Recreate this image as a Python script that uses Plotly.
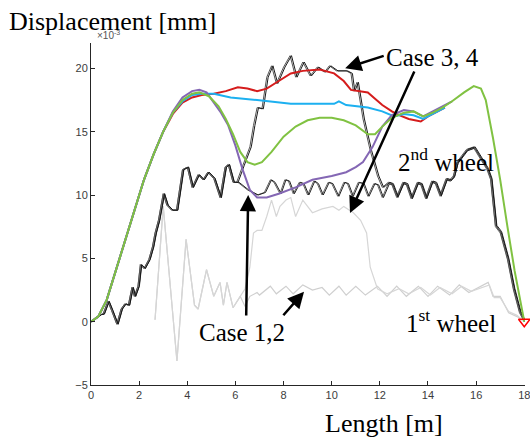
import plotly.graph_objects as go

# ---- colored curves ----
green_x = [0, 0.3, 0.65, 1.0, 1.4, 1.8, 2.2, 2.6, 3.0, 3.4, 3.8, 4.2, 4.5, 4.9, 5.3, 5.6, 5.9, 6.2, 6.5, 6.8, 7.1, 7.5, 8.0, 8.5, 9.0, 9.5, 10.0, 10.5, 11.0, 11.5, 11.8, 12.1, 12.5, 13.0, 13.4, 13.8, 14.2, 14.6, 15.0, 15.5, 15.9, 16.2, 16.4, 16.7, 17.0, 17.3, 17.6, 18.0]
green_y = [0, 0.4, 1.7, 3.8, 6.3, 8.8, 11.2, 13.2, 15.0, 16.5, 17.5, 18.0, 18.1, 17.8, 17.0, 16.0, 14.8, 13.4, 12.6, 12.4, 12.6, 13.4, 14.6, 15.4, 15.9, 16.1, 16.1, 15.9, 15.5, 14.8, 14.8, 15.4, 16.1, 16.5, 16.6, 16.2, 16.5, 16.9, 17.4, 18.1, 18.6, 18.4, 17.5, 14.5, 11.2, 7.5, 4.0, 0]

purple_x = [0, 0.3, 0.65, 1.0, 1.4, 1.8, 2.2, 2.6, 3.0, 3.4, 3.8, 4.2, 4.5, 4.8, 5.1, 5.4, 5.7, 6.0, 6.3, 6.6, 6.9, 7.3, 7.8, 8.5, 9.2, 10.0, 10.6, 11.0, 11.3, 11.7, 12.1, 12.5, 13.0, 13.4, 13.8, 14.2, 14.6, 15.0]
purple_y = [0, 0.4, 1.7, 3.8, 6.3, 8.8, 11.2, 13.2, 15.0, 16.6, 17.7, 18.2, 18.3, 18.1, 17.3, 16.5, 15.5, 13.9, 12.0, 10.4, 9.8, 9.8, 10.1, 10.6, 11.2, 11.5, 11.8, 12.2, 12.6, 13.8, 15.4, 16.3, 16.7, 16.6, 16.2, 16.6, 17.0, 17.4]

red_x = [0, 0.3, 0.65, 1.0, 1.4, 1.8, 2.2, 2.6, 3.0, 3.4, 3.8, 4.2, 4.6, 5.1, 5.6, 6.1, 6.5, 6.9, 7.3, 7.8, 8.3, 8.8, 9.5, 10.1, 10.5, 10.8, 11.2, 11.5, 11.8, 12.1, 12.5, 12.8, 13.2, 13.7, 14.0, 14.4, 14.7]
red_y = [0, 0.4, 1.7, 3.8, 6.3, 8.8, 11.2, 13.2, 15.0, 16.4, 17.3, 17.7, 17.9, 18.0, 18.2, 18.5, 18.4, 18.2, 18.4, 19.0, 19.6, 19.8, 19.9, 19.6, 19.0, 18.3, 18.2, 18.1, 17.6, 17.1, 16.6, 16.3, 16.0, 15.8, 16.2, 16.6, 16.9]

cyan_x = [0, 0.3, 0.65, 1.0, 1.4, 1.8, 2.2, 2.6, 3.0, 3.4, 3.8, 4.2, 4.6, 5.1, 5.8, 6.9, 8.3, 9.5, 10.1, 10.3, 10.6, 11.5, 12.1, 12.6, 13.0, 13.4, 13.8, 14.2, 14.7]
cyan_y = [0, 0.4, 1.7, 3.8, 6.3, 8.8, 11.2, 13.2, 15.0, 16.5, 17.4, 17.9, 18.0, 18.0, 17.7, 17.5, 17.2, 17.2, 17.2, 17.4, 17.1, 16.9, 16.6, 16.2, 16.4, 16.3, 16.0, 16.4, 16.9]

# ---- 2nd wheel (dark) ----
blk12_x = [0, 0.2, 0.37, 0.5, 0.7, 0.85, 1.07, 1.25, 1.4, 1.55, 1.7, 1.8, 1.95, 2.05, 2.2, 2.4, 2.55, 2.66, 2.8, 3.0, 3.15, 3.35, 3.55, 3.8, 4.0, 4.2, 4.45, 4.65, 4.85, 5.1, 5.36, 5.57, 5.7, 5.9, 6.1, 6.5, 6.9, 7.2, 7.45, 7.6, 7.85, 8.05, 8.2, 8.4, 8.65, 8.8, 9.0, 9.25, 9.4, 9.6, 9.85, 10.0, 10.25, 10.5, 10.65, 10.85, 11.1, 11.3, 11.5, 11.75, 11.9, 12.1, 12.35, 12.5, 12.7, 12.95, 13.1, 13.3, 13.55, 13.7, 13.9, 14.15, 14.3, 14.5, 14.75, 14.9, 15.05, 15.2, 15.4, 15.6, 15.9, 16.2, 16.45, 16.6, 16.8, 17.0, 17.3, 17.55, 17.8, 18.0]
blk12_y = [0, 0.3, 0.55, 0.6, 1.6, 0.9, -0.2, 1.0, 1.4, 1.3, 2.7, 2.0, 2.8, 4.5, 4.2, 4.9, 5.9, 7.0, 8.0, 10.1, 9.2, 8.8, 8.8, 12.0, 12.2, 10.6, 11.6, 11.2, 11.8, 11.3, 9.8, 12.2, 12.4, 11.0, 11.0, 10.4, 10.0, 10.2, 11.2, 11.0, 10.1, 11.2, 11.1, 10.1, 11.0, 10.9, 10.0, 11.1, 10.9, 10.0, 11.0, 10.9, 9.9, 11.0, 10.9, 9.9, 11.0, 10.9, 9.9, 10.9, 10.8, 9.8, 10.9, 10.8, 9.8, 10.9, 10.8, 9.7, 10.9, 10.8, 9.7, 11.0, 10.9, 9.9, 11.2, 11.1, 11.4, 12.5, 13.0, 13.5, 13.7, 12.8, 12.0, 11.2, 7.5, 7.0, 4.9, 2.5, 0.7, 0]

blk34_x = [0, 0.2, 0.37, 0.5, 0.7, 0.85, 1.07, 1.25, 1.4, 1.55, 1.7, 1.8, 1.95, 2.05, 2.2, 2.4, 2.55, 2.66, 2.8, 3.0, 3.15, 3.35, 3.55, 3.8, 4.0, 4.2, 4.45, 4.65, 4.85, 5.1, 5.36, 5.57, 5.7, 5.9, 6.05, 6.3, 6.6, 6.75, 6.9, 7.1, 7.3, 7.5, 7.7, 8.0, 8.27, 8.5, 8.8, 9.1, 9.4, 9.7, 9.9, 10.2, 10.6, 10.8, 10.9, 11.05, 11.3, 11.6, 11.9, 12.1, 12.35, 12.5, 12.7, 12.95, 13.1, 13.3, 13.55, 13.7, 13.9, 14.15, 14.3, 14.5, 14.75, 14.9, 15.05, 15.2, 15.4, 15.6, 15.9, 16.2, 16.45, 16.6, 16.8, 17.0, 17.3, 17.55, 17.8, 18.0]
blk34_y = [0, 0.3, 0.55, 0.6, 1.6, 0.9, -0.2, 1.0, 1.4, 1.3, 2.7, 2.0, 2.8, 4.5, 4.2, 4.9, 5.9, 7.0, 8.0, 10.1, 9.2, 8.8, 8.8, 12.0, 12.2, 10.6, 11.6, 11.2, 11.8, 11.3, 9.8, 12.2, 12.4, 11.0, 11.0, 12.3, 13.8, 15.5, 16.9, 16.8, 19.3, 20.2, 18.8, 20.1, 21.0, 19.3, 20.5, 19.4, 20.1, 19.7, 20.2, 19.8, 19.8, 19.6, 18.2, 18.9, 16.0, 13.5, 11.5, 10.6, 11.0, 10.9, 9.9, 11.0, 10.9, 9.8, 11.0, 10.9, 9.8, 11.1, 11.0, 10.0, 11.3, 11.2, 11.5, 12.6, 13.1, 13.6, 13.8, 12.9, 12.1, 11.3, 7.6, 7.1, 5.0, 2.6, 0.8, 0]

# ---- 1st wheel (light gray) ----
gry12_x = [2.66, 3.0, 3.57, 3.95, 4.3, 4.45, 4.8, 5.1, 5.36, 5.5, 5.65, 5.9, 6.2, 6.4, 6.6, 6.9, 7.0, 7.45, 7.7, 8.1, 8.4, 8.8, 9.2, 9.6, 9.9, 10.3, 10.6, 11.0, 11.4, 11.9, 12.3, 12.7, 13.1, 13.6, 14.0, 14.4, 14.9, 15.3, 15.7, 16.2, 16.5, 16.7, 17.0, 17.35, 17.7, 18.0]
gry12_y = [0.15, 9.1, -3.1, 6.5, 1.3, 1.0, 4.1, 2.0, 3.1, 1.3, 3.1, 1.1, 2.0, 1.2, 2.0, 2.3, 2.1, 2.8, 2.2, 2.8, 2.2, 2.9, 2.5, 2.7, 2.1, 2.8, 2.1, 2.8, 2.1, 2.8, 2.0, 2.8, 2.0, 2.8, 2.0, 2.8, 2.1, 2.9, 2.3, 2.8, 3.1, 2.0, 2.0, 0.7, 0.4, 0]

gry34_x = [2.66, 3.0, 3.57, 3.95, 4.3, 4.45, 4.8, 5.1, 5.36, 5.5, 5.65, 5.9, 6.2, 6.4, 6.6, 6.75, 6.9, 7.1, 7.3, 7.5, 7.7, 7.85, 8.1, 8.3, 8.5, 8.8, 9.2, 9.6, 10.05, 10.3, 10.5, 10.75, 10.9, 11.2, 11.45, 11.6, 11.9, 12.3, 12.8, 13.2, 13.7, 14.1, 14.5, 15.0, 15.4, 15.8, 16.3, 16.55, 16.75, 17.0, 17.35, 17.7, 18.0]
gry34_y = [0.15, 9.1, -3.1, 6.5, 1.3, 1.0, 4.1, 2.0, 3.1, 1.3, 3.1, 1.1, 2.0, 2.6, 4.3, 7.0, 7.2, 7.2, 8.3, 9.6, 8.3, 9.1, 9.6, 9.8, 8.3, 9.6, 8.6, 8.9, 9.1, 8.8, 9.1, 8.8, 8.6, 8.0, 7.0, 4.3, 2.6, 2.2, 2.6, 2.2, 2.7, 2.1, 2.7, 2.2, 2.8, 2.4, 2.7, 2.9, 1.9, 1.9, 0.8, 0.5, 0]

end_x = [18]
end_y = [0]

x_ticks = [0, 2, 4, 6, 8, 10, 12, 14, 16, 18]
y_ticks = [-5, 0, 5, 10, 15, 20]

fig = go.Figure()

def line(x, y, color, width=1.5):
    fig.add_trace(go.Scatter(x=x, y=y, mode="lines",
                             line=dict(color=color, width=width),
                             showlegend=False, hoverinfo="skip"))

line(gry12_x, gry12_y, "#cfcfcf", 1.2)
line(gry34_x, gry34_y, "#d6d6d6", 1.2)
line(blk12_x, blk12_y, "#666666", 1.0)
line([v + 0.05 for v in blk12_x], blk12_y, "#222222", 1.0)
line(blk34_x, blk34_y, "#555555", 1.0)
line([v + 0.06 for v in blk34_x], blk34_y, "#1a1a1a", 1.0)
line(red_x, red_y, "#d51c1c", 2)
line(cyan_x, cyan_y, "#1cb0f0", 2)
line(purple_x, purple_y, "#8467b4", 2)
line(green_x, green_y, "#80c242", 2)

fig.add_trace(go.Scatter(x=end_x, y=end_y, mode="markers",
                         marker=dict(symbol="triangle-down-open", size=10,
                                     color="red", line=dict(width=1.5, color="red")),
                         showlegend=False, hoverinfo="skip", cliponaxis=False))

serif = "Liberation Serif"
ann = []
def txt(x, y, s, size=25, xref="x", yref="y", color="black", fam=serif):
    ann.append(dict(x=x, y=y, xref=xref, yref=yref, text=s, showarrow=False,
                    font=dict(family=fam, size=size, color=color),
                    xanchor="center", yanchor="middle"))

def arrow(x, y, ax, ay):
    ann.append(dict(x=x, y=y, xref="x", yref="y", ax=ax, ay=ay, text="",
                    showarrow=True, arrowhead=2, arrowsize=1.3, arrowwidth=2.5,
                    arrowcolor="black"))

txt(0.0485, 1.063, "Displacement [mm]", size=26, xref="paper", yref="paper")
txt(0.04, 1.022, "×10<sup>-3</sup>", size=10, xref="paper", yref="paper",
    color="#555555", fam="Liberation Sans")
txt(0.674, -0.112, "Length [m]", size=26, xref="paper", yref="paper")
txt(14.17, 20.87, "Case 3, 4")
txt(6.28, -0.87, "Case 1,2")
txt(14.75, 12.76, "2<sup>nd</sup> wheel")
txt(14.96, 0.08, "1<sup>st</sup> wheel")

arrow(10.56, 20.0, 40, -13)
arrow(10.76, 8.58, 65, -143)
arrow(6.53, 10.0, -2, 122)
arrow(8.85, 2.36, -22, 25)

axis_common = dict(showgrid=False, zeroline=False, showline=True,
                   linecolor="#262626", linewidth=1, ticks="inside",
                   ticklen=4, tickcolor="#262626", ticklabeloverflow="allow",
                   automargin=False,
                   tickfont=dict(family="Liberation Sans", size=11, color="#3c3c3c"))

fig.update_layout(
    width=530, height=440,
    margin=dict(l=91, r=5, t=43, b=55),
    paper_bgcolor="white", plot_bgcolor="white",
    xaxis=dict(range=[0, 18.03], tickvals=x_ticks, **axis_common),
    yaxis=dict(range=[-5, 22], tickvals=y_ticks, **axis_common),
    annotations=ann,
)

fig.write_html("out.html", config={"displayModeBar": False},
               post_script="document.body.style.margin='0px';")
